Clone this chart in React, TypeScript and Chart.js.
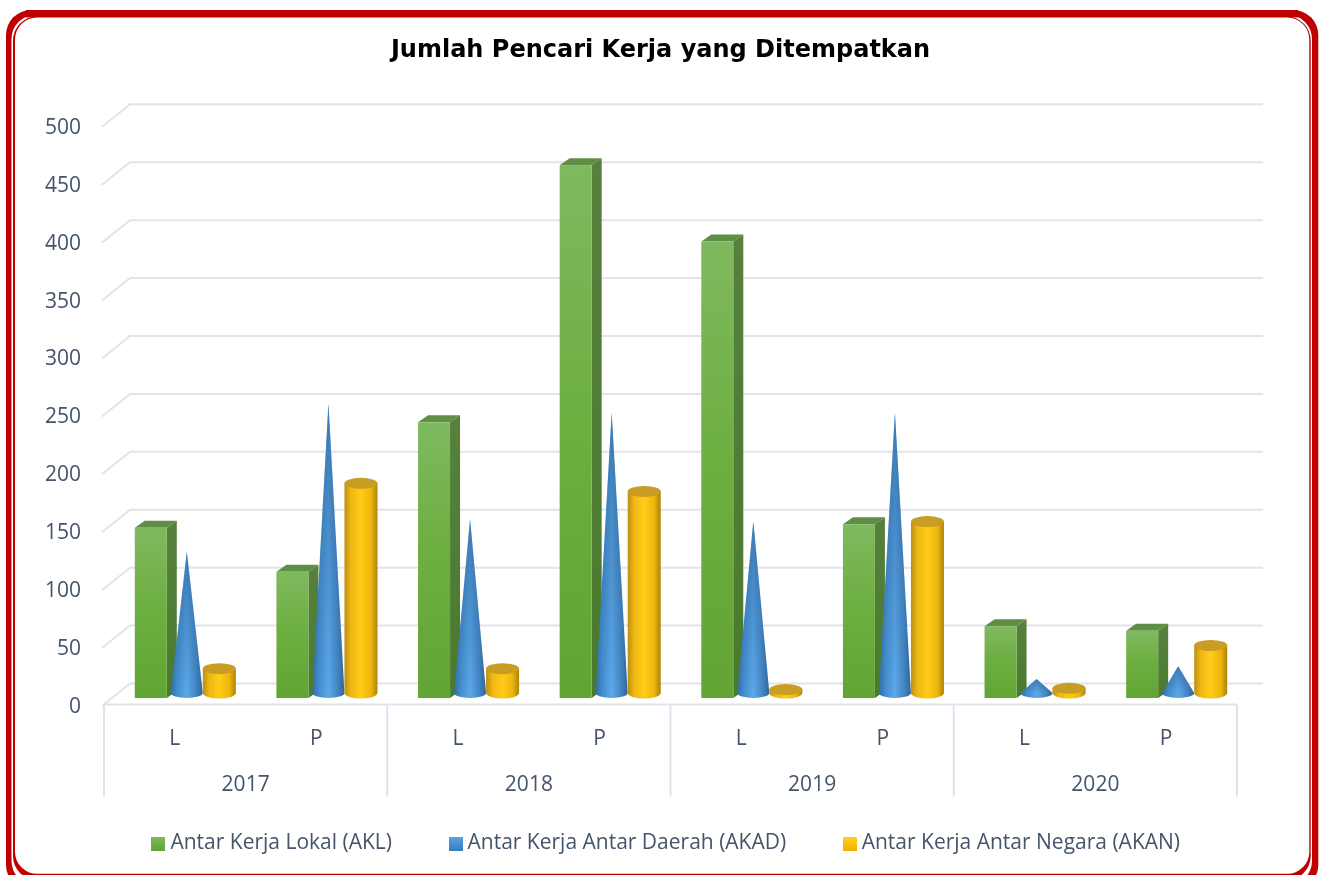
import React, { useEffect, useRef } from "react";
import { Chart, registerables } from "chart.js";

Chart.register(...registerables);

const genders = ["L", "P", "L", "P", "L", "P", "L", "P"];
const years = ["2017", "2018", "2019", "2020"];
const akl = [147, 109, 238, 460, 394, 150, 62, 58];
const akad = [122, 250, 150, 242, 148, 242, 12, 23];
const akan = [21, 181, 21, 174, 3, 148, 4, 41];
const yTicksMax = 500;

const textColor = "#44546A";
const gridColor = "#E2E3EC";
const frameRed = "#C00000";
const bodyFont = "Open Sans";
const titleFont = "DejaVu Sans";

function swatch(stops: string[]) {
  const c = document.createElement("canvas");
  c.width = 14;
  c.height = 14;
  const x = c.getContext("2d")!;
  const g = x.createLinearGradient(0, 0, 0, 14);
  stops.forEach((s, i) => g.addColorStop(i / (stops.length - 1), s));
  x.fillStyle = g;
  x.fillRect(0, 0, 14, 14);
  return c;
}

function rr(ctx: CanvasRenderingContext2D, x0: number, y0: number, x1: number, y1: number, r: number, fill: string) {
  ctx.beginPath();
  ctx.roundRect(x0, y0, x1 - x0, y1 - y0, r);
  ctx.fillStyle = fill;
  ctx.fill();
}

const framePlugin = {
  id: "frame",
  beforeDraw(chart: any) {
    const ctx = chart.ctx;
    ctx.save();
    ctx.fillStyle = "#fff";
    ctx.fillRect(0, 0, chart.width, chart.height);
    rr(ctx, 6, 10, 1318.3, 890, 25, frameRed);
    rr(ctx, 11.5, 15, 1312, 885, 24, "#fff");
    rr(ctx, 13, 16.5, 1310.7, 880, 24, frameRed);
    ctx.fillStyle = frameRed;
    ctx.fillRect(26, 10, 1272, 7.5);
    rr(ctx, 15, 17.5, 1309.3, 873.8, 22, "#fff");
    ctx.restore();
  },
};

const DX = 26;
const DY = 21.5;
const FRONT_OFF = 2;

const wallPlugin = {
  id: "wall",
  beforeDatasetsDraw(chart: any) {
    const { ctx, chartArea: a, scales } = chart;
    const y = scales.y;
    ctx.save();
    ctx.lineWidth = 2;
    ctx.strokeStyle = gridColor;
    y.ticks.forEach((t: any) => {
      const py = y.getPixelForValue(t.value) - FRONT_OFF;
      ctx.beginPath();
      ctx.moveTo(a.left - 2, py + 1);
      ctx.lineTo(a.left + DX, py - DY);
      ctx.lineTo(a.right + DX, py - DY);
      ctx.stroke();
    });
    const base = y.getPixelForValue(0) - FRONT_OFF - 0.5;
    ctx.strokeStyle = "#DEE3EC";
    ctx.beginPath();
    ctx.moveTo(a.left, base);
    ctx.lineTo(a.right, base);
    ctx.stroke();
    const x2 = scales.x2;
    const step = (a.right - a.left) / years.length;
    for (let i = 0; i <= years.length; i++) {
      const px = i === years.length ? a.right : x2.getPixelForValue(i) - step / 2;
      ctx.beginPath();
      ctx.moveTo(px, base);
      ctx.lineTo(px, base + 92);
      ctx.stroke();
    }
    ctx.restore();
  },
};

function hGrad(ctx: CanvasRenderingContext2D, l: number, r: number, stops: [number, string][]) {
  const g = ctx.createLinearGradient(l, 0, r, 0);
  stops.forEach(([p, c]) => g.addColorStop(p, c));
  return g;
}

function drawBox(ctx: CanvasRenderingContext2D, el: any) {
  const w = 32, d = 10, dy = 7;
  const l = el.x + 9.5 - w / 2;
  const r = l + w;
  const top = el.y - 9;
  const bot = el.base - 9;
  ctx.fillStyle = "#5E8F44";
  ctx.beginPath();
  ctx.moveTo(l, top);
  ctx.lineTo(l + d, top - dy);
  ctx.lineTo(r + d, top - dy);
  ctx.lineTo(r, top);
  ctx.closePath();
  ctx.fill();
  const s = ctx.createLinearGradient(0, top, 0, bot);
  s.addColorStop(0, "#56803C");
  s.addColorStop(1, "#4A7A2E");
  ctx.fillStyle = s;
  ctx.beginPath();
  ctx.moveTo(r, top);
  ctx.lineTo(r + d, top - dy);
  ctx.lineTo(r + d, bot - dy);
  ctx.lineTo(r, bot);
  ctx.closePath();
  ctx.fill();
  const f = ctx.createLinearGradient(0, top, 0, bot);
  f.addColorStop(0, "#7FB95F");
  f.addColorStop(0.5, "#6CAE3F");
  f.addColorStop(1, "#62A534");
  ctx.fillStyle = f;
  ctx.fillRect(l, top, w, bot - top);
}

function drawCone(ctx: CanvasRenderingContext2D, el: any) {
  const w = 32;
  const cx = el.x + 12;
  const tip = el.y - 14;
  const by = el.base - 14;
  const rx = w / 2, ry = 5;
  const path = () => {
    ctx.beginPath();
    ctx.moveTo(cx, tip);
    ctx.lineTo(cx + rx, by);
    ctx.ellipse(cx, by, rx, ry, 0, 0, Math.PI);
    ctx.closePath();
  };
  ctx.fillStyle = hGrad(ctx, cx - rx, cx + rx, [
    [0, "#2F6FA8"],
    [0.22, "#458FD0"],
    [0.5, "#5BA8EA"],
    [0.78, "#4587C4"],
    [1, "#2E6699"],
  ]);
  path();
  ctx.fill();
  const shade = ctx.createLinearGradient(0, tip, 0, by);
  shade.addColorStop(0, "rgba(35,85,135,0.55)");
  shade.addColorStop(1, "rgba(35,85,135,0)");
  ctx.fillStyle = shade;
  path();
  ctx.fill();
}

function drawCylinder(ctx: CanvasRenderingContext2D, el: any) {
  const w = 33;
  const cx = el.x + 11;
  const top = el.y - 14;
  const by = el.base - 14;
  const rx = w / 2, ry = 5.5;
  ctx.fillStyle = hGrad(ctx, cx - rx, cx + rx, [
    [0, "#BD8E12"],
    [0.2, "#EFB814"],
    [0.5, "#FFCC18"],
    [0.8, "#EDB60E"],
    [1, "#AD8208"],
  ]);
  ctx.beginPath();
  ctx.moveTo(cx - rx, top);
  ctx.lineTo(cx + rx, top);
  ctx.lineTo(cx + rx, by);
  ctx.ellipse(cx, by, rx, ry, 0, 0, Math.PI);
  ctx.closePath();
  ctx.fill();
  ctx.fillStyle = "#C99C24";
  ctx.beginPath();
  ctx.ellipse(cx, top, rx, ry, 0, 0, Math.PI * 2);
  ctx.fill();
}

const shapePlugin = {
  id: "shapes",
  afterDatasetsDraw(chart: any) {
    const ctx = chart.ctx;
    const painters = [drawBox, drawCone, drawCylinder];
    ctx.save();
    painters.forEach((paint, d) => {
      chart.getDatasetMeta(d).data.forEach((el: any) => paint(ctx, el));
    });
    ctx.restore();
  },
};

const shiftPlugin = {
  id: "shift",
  afterLayout(chart: any) {
    const shift = (b: any, dx: number) => {
      if (!b) return;
      b.left += dx;
      b.right += dx;
    };
    shift(chart.titleBlock, 42);
    shift(chart.legend, 50);
    chart.legend.top += 2;
    chart.legend.bottom += 2;
    chart.scales.x2.bottom = chart.height;
  },
};

export default function App() {
  const ref = useRef<HTMLCanvasElement>(null);
  useEffect(() => {
    const pStyles = [
      swatch(["#7FB95F", "#62A534"]),
      swatch(["#5BA8EA", "#3A7DB8"]),
      swatch(["#FFD028", "#F2B200"]),
    ];
    const chart = new Chart(ref.current!, {
      type: "bar",
      data: {
        labels: genders,
        datasets: [
          { label: "Antar Kerja Lokal (AKL)", data: akl, backgroundColor: "rgba(0,0,0,0)" },
          { label: "Antar Kerja Antar Daerah (AKAD)", data: akad, backgroundColor: "rgba(0,0,0,0)" },
          { label: "Antar Kerja Antar Negara (AKAN)", data: akan, backgroundColor: "rgba(0,0,0,0)" },
        ],
      },
      options: {
        responsive: false,
        animation: false,
        events: [],
        layout: { padding: { left: 0, right: 86, top: 0, bottom: 13 } },
        datasets: { bar: { barPercentage: 1, categoryPercentage: 0.71 } },
        scales: {
          x: {
            grid: { display: false },
            border: { display: false },
            ticks: { color: textColor, font: { family: bodyFont, size: 21 }, padding: 11, maxRotation: 0, autoSkip: false },
            afterFit: (s: any) => { s.height = 46; },
          },
          x2: {
            type: "category",
            labels: years,
            position: "bottom",
            offset: true,
            grid: { display: false },
            border: { display: false },
            ticks: { color: textColor, font: { family: bodyFont, size: 21 }, padding: 11, maxRotation: 0 },
            afterFit: (s: any) => { s.height = 16; },
          },
          y: {
            min: 0,
            max: yTicksMax,
            grid: { display: false },
            border: { display: false },
            ticks: { stepSize: 50, color: textColor, font: { family: bodyFont, size: 21 }, padding: 15 },
            afterFit: (s: any) => { s.width = 104; },
          },
        },
        plugins: {
          tooltip: { enabled: false },
          title: {
            display: true,
            text: "Jumlah Pencari Kerja yang Ditempatkan",
            color: "#000",
            font: { family: titleFont, size: 24, weight: "bold" },
            padding: { top: 36, bottom: 63 },
          },
          legend: {
            position: "bottom",
            labels: {
              color: textColor,
              font: { family: bodyFont, size: 21 },
              usePointStyle: true,
              pointStyleWidth: 3,
              padding: 62,
              generateLabels: (c: any) =>
                c.data.datasets.map((ds: any, i: number) => ({
                  text: ds.label,
                  datasetIndex: i,
                  pointStyle: pStyles[i],
                  fontColor: textColor,
                  fillStyle: "#000",
                  lineWidth: 0,
                  hidden: false,
                })),
            },
          },
        },
      },
      plugins: [framePlugin, wallPlugin, shapePlugin, shiftPlugin],
    } as any);
    return () => chart.destroy();
  }, []);
  return (
    <div style={{ position: "absolute", left: 0, top: 0 }}>
      <canvas ref={ref} width={1323} height={875} style={{ display: "block" }} />
    </div>
  );
}
